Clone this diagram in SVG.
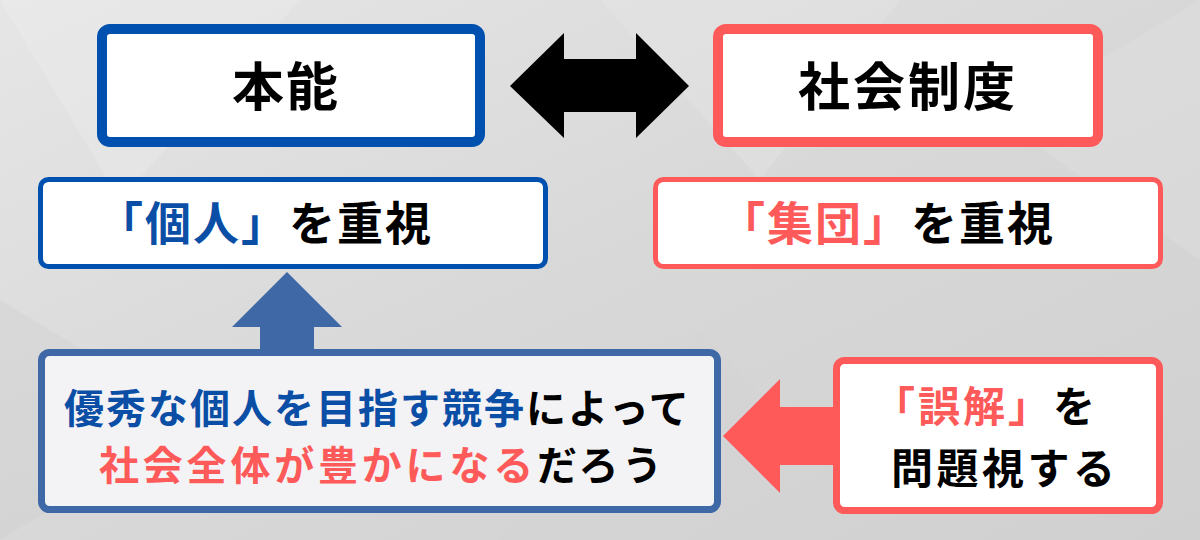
<svg xmlns="http://www.w3.org/2000/svg" width="1200" height="540" viewBox="0 0 1200 540">
<style>
text{font-family:"Noto Sans CJK JP","Noto Sans",sans-serif;font-weight:700}
.blue{fill:#0B4EA6}.red{fill:#FF5A5A}.blk{fill:#000}
.bb{fill:#fff;stroke:#0050AF}.rb{fill:#fff;stroke:#FF5A5A}
</style>
<defs>
<linearGradient id="bg" x1="0" y1="0" x2="1" y2="1">
<stop offset="0" stop-color="#E6E6E6"/><stop offset="0.5" stop-color="#D8D8D8"/><stop offset="1" stop-color="#D0D0D0"/>
</linearGradient>
</defs>
<rect width="1200" height="540" fill="url(#bg)"/>
<g opacity="0.35">
<polygon points="0,0 300,0 120,200" fill="#EFEFEF"/>
<polygon points="600,0 900,0 760,180" fill="#E9E9E9"/>
<polygon points="0,300 200,420 0,540" fill="#CFCFCF"/>
<polygon points="1200,0 1200,260 1000,120" fill="#E2E2E2"/>
<polygon points="500,540 700,330 900,540" fill="#D4D4D4"/>
</g>
<g id="connectors">
<polygon id="double-arrow" points="510,86 564,33 564,59 636,59 636,33 689,86 636,138 636,112 564,112 564,138" fill="#000"/>
<polygon id="up-arrow" points="287,272 342,327 314,327 314,354 260,354 260,327 232,327" fill="#3F68A6"/>
<polygon id="left-arrow" points="723,436 780,379 780,407 838,407 838,465 780,465 780,493" fill="#FF5A5A"/>
</g>
<g id="honno">
<rect class="bb" x="102" y="29" width="378" height="113" rx="8" stroke-width="10"/>
<text x="232" y="106" font-size="52" letter-spacing="2" class="blk">本能</text>
</g>
<g id="shakai-seido">
<rect class="rb" x="718" y="29" width="380" height="113" rx="8" stroke-width="10"/>
<text x="798" y="106" font-size="52" letter-spacing="3" class="blk">社会制度</text>
</g>
<g id="kojin">
<rect class="bb" x="40.5" y="179.5" width="505" height="87" rx="8" stroke-width="5"/>
<text x="97" y="240" font-size="46" letter-spacing="2"><tspan class="blue">「個人」</tspan><tspan class="blk">を重視</tspan></text>
</g>
<g id="shudan">
<rect class="rb" x="655.5" y="179.5" width="505" height="87" rx="8" stroke-width="5"/>
<text x="719" y="240" font-size="46" letter-spacing="2"><tspan class="red">「集団」</tspan><tspan class="blk">を重視</tspan></text>
</g>
<g id="kyoso">
<rect x="41.5" y="352.5" width="676" height="157" rx="8" fill="#F3F3F5" stroke="#3F68A6" stroke-width="7"/>
<text x="64" y="423" font-size="40" letter-spacing="2"><tspan class="blue">優秀な個人を目指す競争</tspan><tspan class="blk">によって</tspan></text>
<text x="99" y="480" font-size="40" letter-spacing="3.8"><tspan class="red">社会全体が豊かになる</tspan><tspan class="blk">だろう</tspan></text>
</g>
<g id="gokai">
<rect class="rb" x="836.5" y="360.5" width="323" height="150" rx="8" stroke-width="7"/>
<text x="873" y="422" font-size="42" letter-spacing="3"><tspan class="red">「誤解」</tspan><tspan class="blk">を</tspan></text>
<text x="891" y="484" font-size="42" letter-spacing="3.5" class="blk">問題視する</text>
</g>
</svg>
